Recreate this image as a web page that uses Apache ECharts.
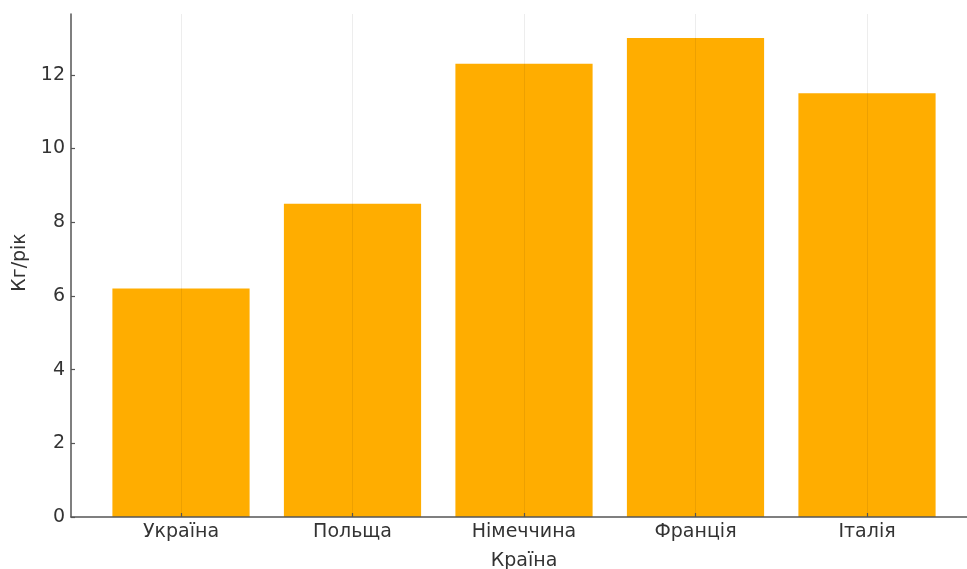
<!DOCTYPE html>
<html><head><meta charset="utf-8">
<script src="https://cdn.jsdelivr.net/npm/echarts@6/dist/echarts.min.js"></script>
<style>html,body{margin:0;padding:0;background:#fff}#c{width:967px;height:569px}</style>
</head><body><div id="c"></div>
<script>
const categories = ['Україна', 'Польща', 'Німеччина', 'Франція', 'Італія'];
const values = [6.2, 8.5, 12.3, 13.0, 11.5];
const yTicks = [0, 2, 4, 6, 8, 10, 12];
const xName = 'Країна';
const yName = 'Кг/рік';

const yMin = 0, yMax = 13.65, yStep = yTicks[1] - yTicks[0];
const font = 'DejaVu Sans';
const fs = 19;
const axisColor = '#555';
const textColor = '#333';
const chart = echarts.init(document.getElementById('c'), null, {renderer: 'canvas'});
const gTop = 14, gBottom = 52;
const gridBase = {top: gTop, bottom: gBottom, containLabel: false, outerBoundsMode: 'none'};
chart.setOption({
  animation: false,
  grid: [
    Object.assign({left: 71, right: -10}, gridBase),
    Object.assign({left: 95.25, right: 14.25}, gridBase),
    Object.assign({left: 181, right: 100}, gridBase)
  ],
  xAxis: [
    {gridIndex: 0, type: 'value', min: 0, max: 1, z: 10,
     axisLine: {show: true, lineStyle: {color: axisColor, width: 1.5}},
     axisTick: {show: false}, axisLabel: {show: false}, splitLine: {show: false}},
    {gridIndex: 1, type: 'category', data: categories, boundaryGap: true, z: 10,
     axisLine: {show: false},
     axisTick: {show: true, inside: true, alignWithLabel: true, length: 4, lineStyle: {color: axisColor, width: 1.2}},
     axisLabel: {fontFamily: font, fontSize: fs, color: textColor, margin: 6},
     name: xName, nameLocation: 'middle', nameGap: 35,
     nameTextStyle: {fontFamily: font, fontSize: fs, color: textColor},
     splitLine: {show: false}},
    {gridIndex: 2, type: 'value', min: 0, max: 4, interval: 1, z: 5,
     axisLine: {show: false}, axisTick: {show: false}, axisLabel: {show: false},
     splitLine: {show: true, lineStyle: {color: 'rgba(0,0,0,0.07)', width: 1}}}
  ],
  yAxis: [
    {gridIndex: 0, type: 'value', min: yMin, max: yMax, interval: yStep, z: 10,
     axisLine: {show: true, lineStyle: {color: axisColor, width: 1.5}},
     axisTick: {show: true, inside: true, length: 4, lineStyle: {color: axisColor, width: 1.2}},
     axisLabel: {fontFamily: font, fontSize: fs, color: textColor, margin: 6, showMaxLabel: false},
     splitLine: {show: false},
     name: yName, nameLocation: 'middle', nameGap: 36, nameRotate: 90,
     nameTextStyle: {fontFamily: font, fontSize: fs, color: textColor, padding: [0, 0, 0, 6]}},
    {gridIndex: 1, type: 'value', min: yMin, max: yMax, show: false},
    {gridIndex: 2, type: 'value', min: yMin, max: yMax, show: false}
  ],
  series: [{
    type: 'bar', xAxisIndex: 1, yAxisIndex: 1, data: values,
    barCategoryGap: '20%',
    itemStyle: {color: '#FFAD00', borderWidth: 0}
  }]
});
</script></body></html>
